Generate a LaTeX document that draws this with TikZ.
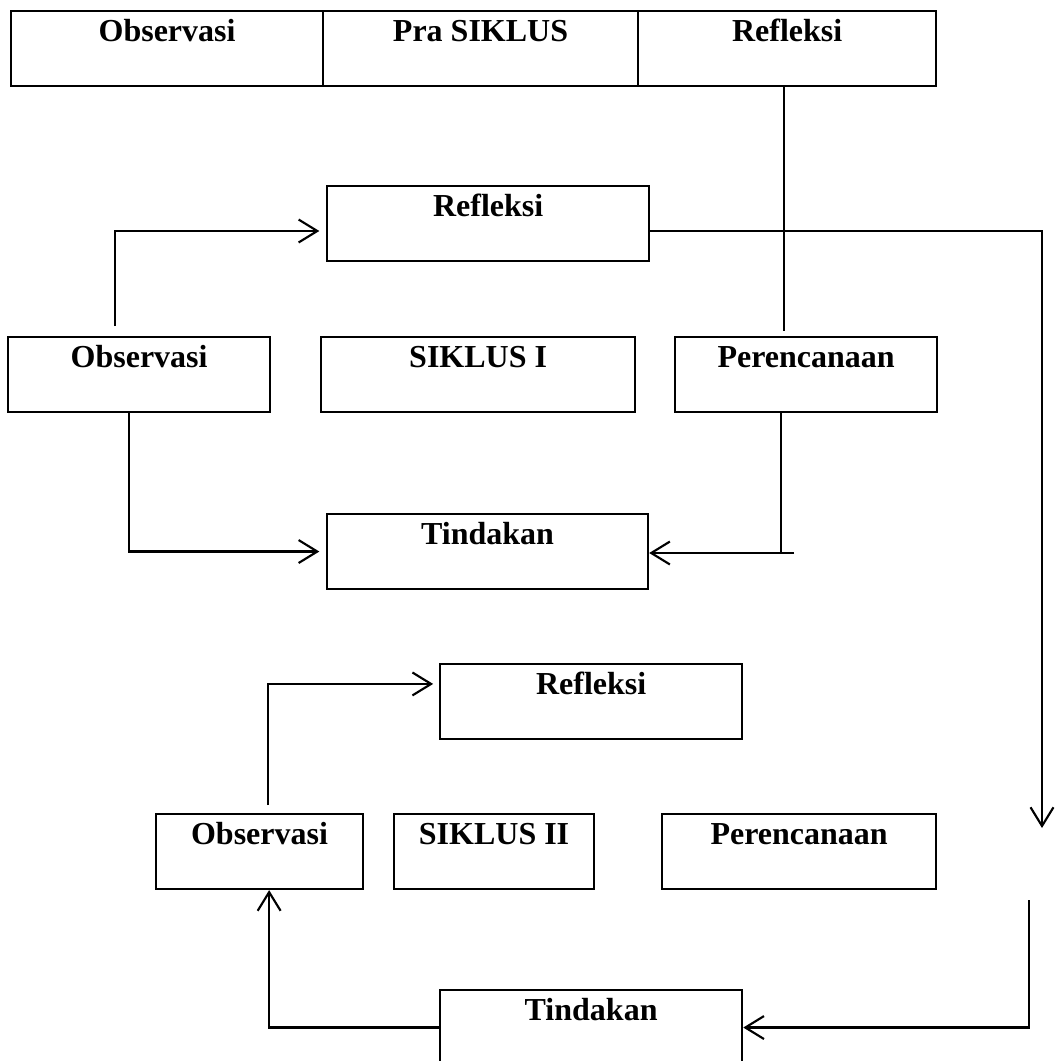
\documentclass[tikz,border=0pt]{standalone}
\usepackage{fontspec}
\setmainfont{Liberation Serif}
\usepackage{tikz}
\usetikzlibrary{arrows.meta}
\tikzset{>={Straight Barb[length=7pt,width=8.6pt]}}
\tikzset{kotak/.style={draw, line width=0.8pt, rectangle, anchor=north west, inner sep=0pt,
  minimum height=28.1pt, text height=11.25pt, text depth=16.85pt,
  font=\fontsize{12}{14}\selectfont\bfseries}}

\begin{document}
\begin{tikzpicture}[x=0.375pt,y=-0.375pt,line width=0.8pt]
\useasboundingbox (0,0) rectangle (1058,1061);

%Pra siklus
\node [kotak, minimum width=117pt] (obs0) at (10,10) {Observasi};
\node [kotak, minimum width=118.1pt] (pra) at (322,10) {Pra SIKLUS};
\node [kotak, minimum width=111.8pt] (ref0) at (637,10) {Refleksi};

%Siklus I
\node [kotak, minimum width=120.8pt] (ref1) at (326,185) {Refleksi};
\node [kotak, minimum width=98.3pt] (obs1) at (7,336) {Observasi};
\node [kotak, minimum width=117.8pt] (sik1) at (320,336) {SIKLUS I};
\node [kotak, minimum width=98.3pt] (per1) at (674,336) {Perencanaan};
\node [kotak, minimum width=120.4pt] (tin1) at (326,513) {Tindakan};

%Siklus II
\node [kotak, minimum width=113.3pt] (ref2) at (439,663) {Refleksi};
\node [kotak, minimum width=77.6pt] (obs2) at (155,813) {Observasi};
\node [kotak, minimum width=75pt] (sik2) at (393,813) {SIKLUS II};
\node [kotak, minimum width=102.8pt] (per2) at (661,813) {Perencanaan};
\node [kotak, minimum width=113.3pt] (tin2) at (439,989) {Tindakan};

%Garis penghubung
\coordinate (turunA) at (784,331);
\coordinate (obsA) at (115,326);
\coordinate (turunB) at (1042,828);
\coordinate (ekor) at (794,553);
\coordinate (obsB) at (268,805);
\coordinate (naik) at (1029,900);

\draw [line width=0.5pt] (turunA |- ref0.south) -- (turunA);
\draw [->, shorten >=2.5pt] (obsA) |- ([yshift=-2.8pt]ref1.west);
\draw [->] ([yshift=-2.8pt]ref1.east) -| (turunB);
\draw [->, shorten >=2.5pt] ([xshift=-3.75pt]obs1.south) |- (tin1.west);
\draw [line width=0.6pt] ([xshift=-9.4pt]per1.south) -- ([xshift=-9.4pt]per1.south |- ekor);
\draw [->] (ekor) -- (ekor -| tin1.east);
\draw [->, shorten >=2.2pt] (obsB) |- ([yshift=6.6pt]ref2.west);
\draw [->] (tin2.west) -| ([xshift=3.6pt]obs2.south);
\draw [->] (naik) |- (tin2.east);

\end{tikzpicture}
\end{document}
